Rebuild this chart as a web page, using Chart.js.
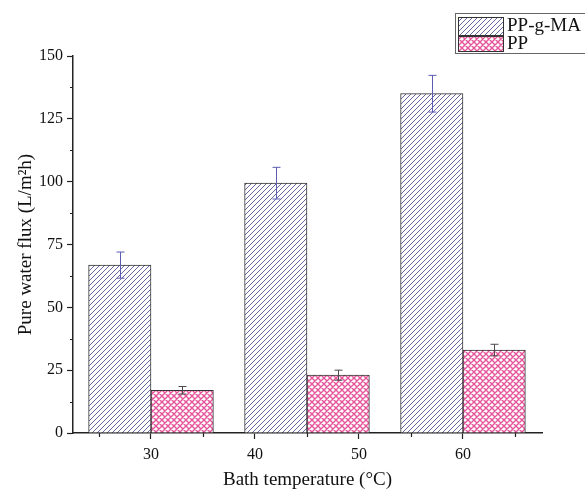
<!DOCTYPE html>
<html>
<head>
<meta charset="utf-8">
<script src="https://cdn.jsdelivr.net/npm/chart.js@4.4.1/dist/chart.umd.min.js"></script>
<style>
  html, body { margin: 0; padding: 0; background: #fff; }
  #wrap { width: 585px; height: 496px; }
</style>
</head>
<body>
<div id="wrap"><canvas id="fluxChart"></canvas></div>
<script>
// bath temperature groups, flux values and error bars
const temps = [30, 45, 60];
const ppgmaFlux = [66.8, 99.4, 135.0];
const ppgmaErr = [5.2, 6.3, 7.3];
const ppFlux = [17.0, 23.0, 33.0];
const ppErr = [1.5, 2.0, 2.3];
const xTickLabels = [30, 40, 50, 60];
const yTickLabels = [0, 25, 50, 75, 100, 125, 150];

const serif = '"Liberation Serif", "DejaVu Serif", serif';

function makeHatch(color, cross, s, lw) {
  const c = document.createElement('canvas');
  c.width = s; c.height = s;
  const g = c.getContext('2d');
  g.fillStyle = '#fff';
  g.fillRect(0, 0, s, s);
  g.strokeStyle = color;
  g.lineWidth = lw;
  g.beginPath();
  g.moveTo(-1, s + 1); g.lineTo(s + 1, -1);
  g.moveTo(-1, 1); g.lineTo(1, -1);
  g.moveTo(s - 1, s + 1); g.lineTo(s + 1, s - 1);
  if (cross) {
    g.moveTo(-1, -1); g.lineTo(s + 1, s + 1);
    g.moveTo(s - 1, -1); g.lineTo(s + 1, 1);
    g.moveTo(-1, s - 1); g.lineTo(1, s + 1);
  }
  g.stroke();
  return g.createPattern(c, 'repeat');
}

const ctx = document.getElementById('fluxChart').getContext('2d');
const hatchBlue = makeHatch('#55559a', false, 5, 0.9);
const hatchPink = makeHatch('#e6559a', true, 6, 1.4);

const errorColors = ['#5c5cb4', '#4a4a4a'];
const errorArrays = [ppgmaErr, ppErr];

const errorBars = {
  id: 'errorBars',
  afterDatasetsDraw(chart) {
    const c = chart.ctx;
    const xs = chart.scales.x, ys = chart.scales.y;
    c.save();
    c.lineWidth = 1;
    chart.data.datasets.forEach((ds, di) => {
      c.strokeStyle = errorColors[di];
      ds.data.forEach((p, i) => {
        const e = errorArrays[di][i];
        const px = Math.round(xs.getPixelForValue(p.x)) + 0.5;
        const top = ys.getPixelForValue(p.y + e);
        const bot = ys.getPixelForValue(p.y - e);
        c.beginPath();
        c.moveTo(px, top); c.lineTo(px, bot);
        c.moveTo(px - 4, top); c.lineTo(px + 4, top);
        c.moveTo(px - 4, bot); c.lineTo(px + 4, bot);
        c.stroke();
      });
    });
    c.restore();
  }
};

const extras = {
  id: 'extras',
  afterDraw(chart) {
    const c = chart.ctx;
    const xs = chart.scales.x, ys = chart.scales.y;
    const area = chart.chartArea;
    c.save();
    c.strokeStyle = '#222';
    c.lineWidth = 1.2;
    c.beginPath();
    // minor ticks
    for (let v = 12.5; v < 150; v += 25) {
      const py = Math.round(ys.getPixelForValue(v)) + 0.5;
      c.moveTo(area.left, py); c.lineTo(area.left - 3, py);
    }
    for (let v = 25; v <= 65; v += 10) {
      const px = Math.round(xs.getPixelForValue(v)) + 0.5;
      c.moveTo(px, area.bottom); c.lineTo(px, area.bottom + 4);
    }
    c.stroke();

    // legend box
    c.strokeStyle = '#666';
    c.lineWidth = 1;
    c.strokeRect(455.5, 13.5, 160, 40);
    c.fillStyle = hatchBlue;
    c.fillRect(458, 17, 45, 18);
    c.fillStyle = hatchPink;
    c.fillRect(458, 36, 45, 15);
    c.strokeStyle = '#333';
    c.strokeRect(458.5, 17.5, 45, 18);
    c.strokeRect(458.5, 36.5, 45, 15);
    c.fillStyle = '#111';
    c.font = '19px ' + serif;
    c.textBaseline = 'middle';
    c.fillText('PP-g-MA', 507, 26);
    c.fillText('PP', 507, 44);
    c.restore();
  }
};

new Chart(ctx, {
  type: 'bar',
  data: {
    datasets: [
      {
        label: 'PP-g-MA',
        data: temps.map((t, i) => ({ x: t - 3, y: ppgmaFlux[i] })),
        backgroundColor: hatchBlue,
        borderColor: '#333',
        borderWidth: 1
      },
      {
        label: 'PP',
        data: temps.map((t, i) => ({ x: t + 3, y: ppFlux[i] })),
        backgroundColor: hatchPink,
        borderColor: '#333',
        borderWidth: 1
      }
    ]
  },
  options: {
    responsive: true,
    maintainAspectRatio: false,
    animation: false,
    grouped: false,
    barPercentage: 1,
    categoryPercentage: 1,
    layout: { padding: { left: 0, top: 56, right: 43, bottom: 0 } },
    plugins: {
      legend: { display: false },
      tooltip: { enabled: false }
    },
    scales: {
      x: {
        type: 'linear',
        min: 22.5,
        max: 67.6,
        offset: false,
        afterFit: s => { s.height = 63; },
        afterBuildTicks: s => { s.ticks = xTickLabels.map(v => ({ value: v })); },
        grid: {
          offset: false,
          drawOnChartArea: false,
          drawTicks: true,
          tickLength: 6,
          tickColor: '#222',
          tickWidth: 1.2
        },
        border: { display: true, color: '#222', width: 1.5 },
        ticks: {
          color: '#111',
          padding: 6,
          font: { family: serif, size: 16 }
        },
        title: {
          display: true,
          text: 'Bath temperature (\u00B0C)',
          color: '#111',
          font: { family: serif, size: 19 },
          padding: { top: 0, bottom: 5 }
        }
      },
      y: {
        min: 0,
        max: 150,
        afterFit: s => { s.width = 73; },
        afterBuildTicks: s => { s.ticks = yTickLabels.map(v => ({ value: v })); },
        grid: {
          drawOnChartArea: false,
          drawTicks: true,
          tickLength: 6,
          tickColor: '#222',
          tickWidth: 1.2
        },
        border: { display: true, color: '#222', width: 1.5 },
        ticks: {
          color: '#111',
          padding: 4,
          font: { family: serif, size: 16 }
        },
        title: {
          display: true,
          text: 'Pure water flux (L/m\u00B2h)',
          color: '#111',
          font: { family: serif, size: 19 },
          padding: { top: 15, bottom: 0 }
        }
      }
    }
  },
  plugins: [errorBars, extras]
});
</script>
</body>
</html>
